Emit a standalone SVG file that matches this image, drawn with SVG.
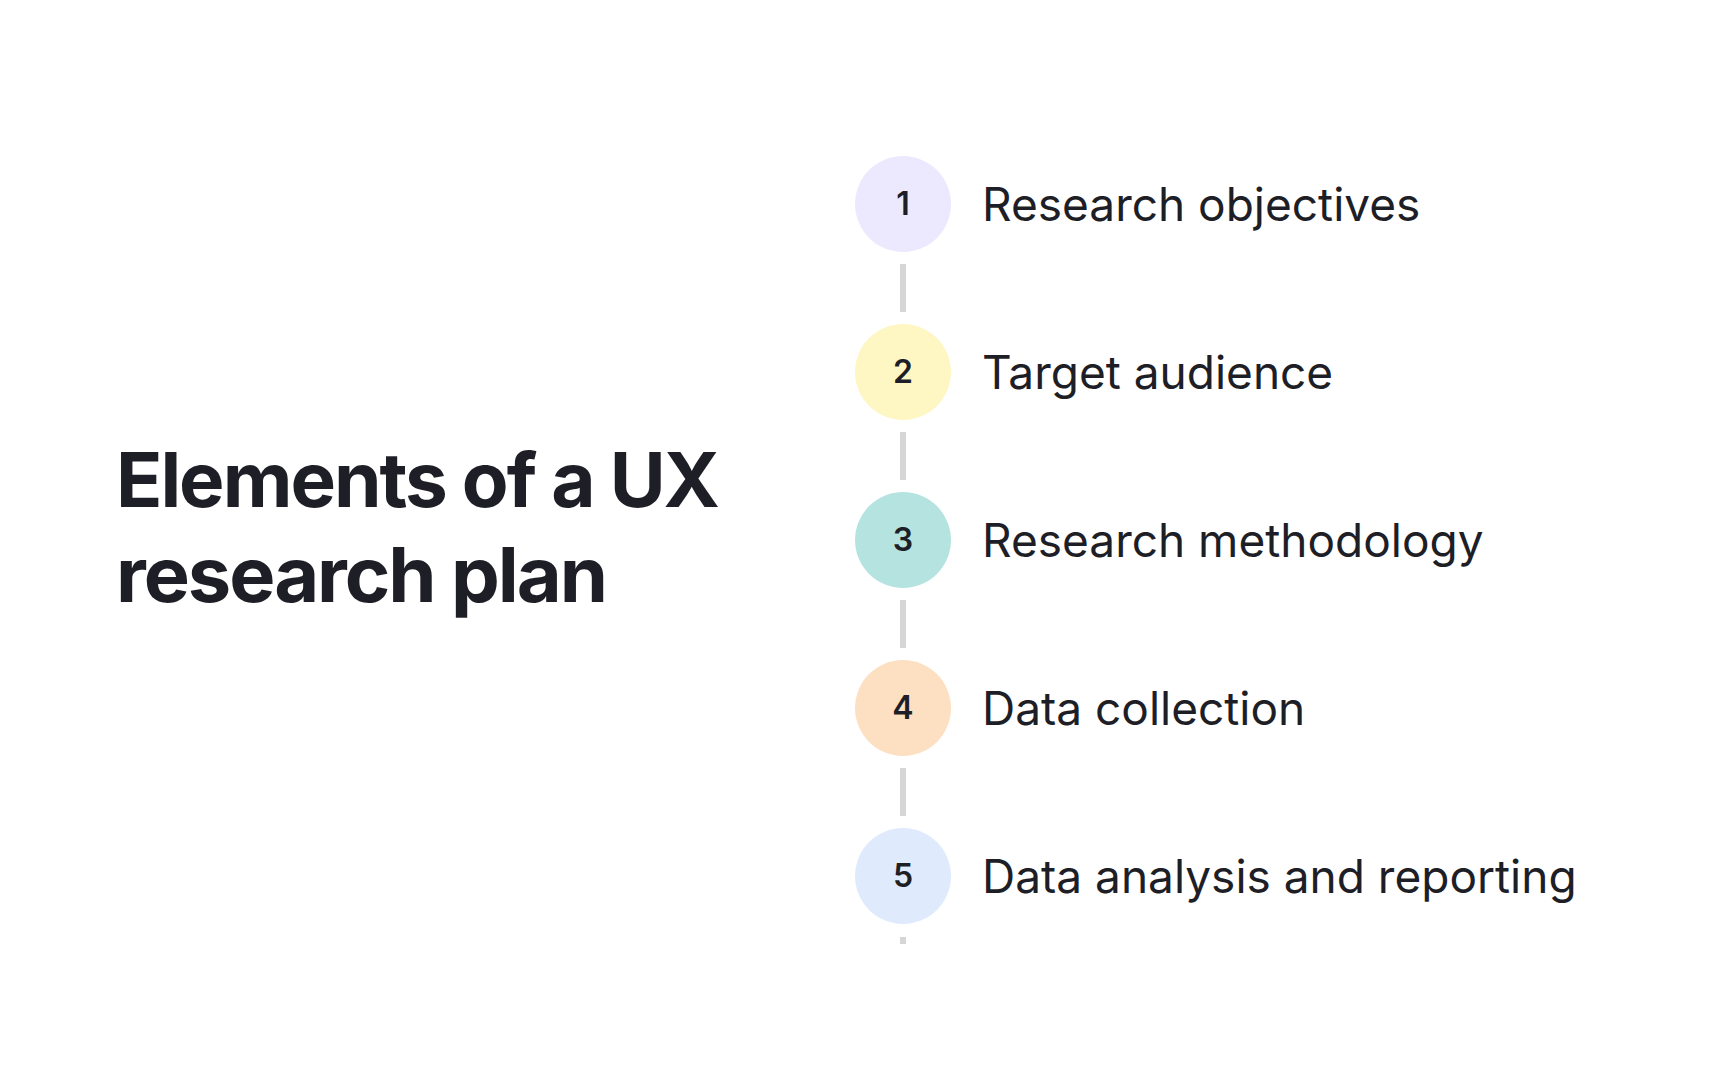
<svg xmlns="http://www.w3.org/2000/svg" width="1728" height="1080" viewBox="0 0 1728 1080">
<style>
.num{font-family:Inter,"Noto Sans",sans-serif;font-weight:600;font-size:32px;fill:#1e1e26;text-anchor:middle}
.lbl{font-family:Inter,"Noto Sans",sans-serif;font-size:46px;fill:#1e1e26}
.ttl{font-family:Inter,"Noto Sans",sans-serif;font-weight:700;font-size:76px;fill:#1e1e26;letter-spacing:-2px}
</style>
<rect width="1728" height="1080" fill="#fff"/>
<g id="title"><text class="ttl" x="116" y="507" textLength="602" lengthAdjust="spacingAndGlyphs">Elements of a UX</text><text class="ttl" x="116" y="602" textLength="490" lengthAdjust="spacingAndGlyphs">research plan</text></g>
<g id="connectors" stroke="#d6d6d6" stroke-width="6">
<line x1="903" y1="264" x2="903" y2="312"/>
<line x1="903" y1="432" x2="903" y2="480"/>
<line x1="903" y1="600" x2="903" y2="648"/>
<line x1="903" y1="768" x2="903" y2="816"/>
<line x1="903" y1="937" x2="903" y2="944"/>
</g>
<g id="n1"><circle cx="903" cy="204" r="48" fill="#ece8fe"/><text class="num" x="903" y="215">1</text><text class="lbl" x="982" y="221">Research objectives</text></g>
<g id="n2"><circle cx="903" cy="372" r="48" fill="#fef7c3"/><text class="num" x="903" y="383">2</text><text class="lbl" x="982" y="389">Target audience</text></g>
<g id="n3"><circle cx="903" cy="540" r="48" fill="#b4e3e0"/><text class="num" x="903" y="551">3</text><text class="lbl" x="982" y="557">Research methodology</text></g>
<g id="n4"><circle cx="903" cy="708" r="48" fill="#fddfc2"/><text class="num" x="903" y="719">4</text><text class="lbl" x="982" y="725">Data collection</text></g>
<g id="n5"><circle cx="903" cy="876" r="48" fill="#dfebfd"/><text class="num" x="903" y="887">5</text><text class="lbl" x="982" y="893">Data analysis and reporting</text></g>
</svg>
